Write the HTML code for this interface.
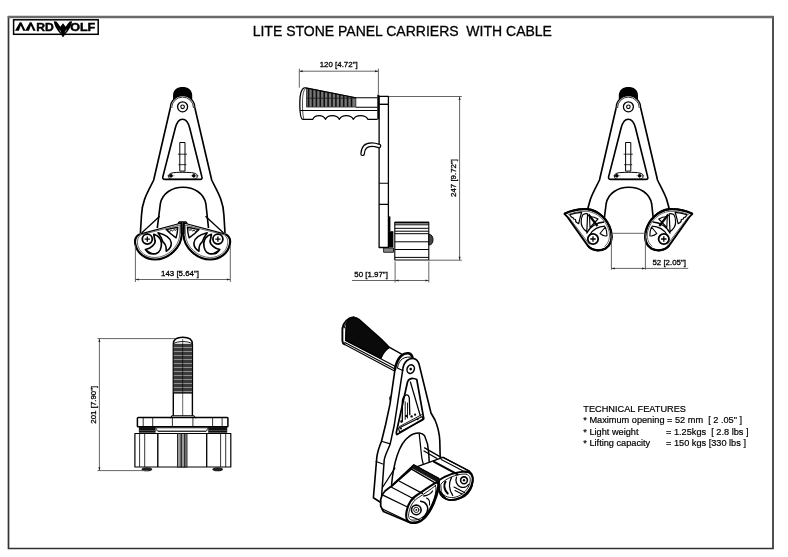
<!DOCTYPE html>
<html><head><meta charset="utf-8">
<style>
html,body{margin:0;padding:0;background:#fff;}
body{width:788px;height:557px;overflow:hidden;position:relative;}
svg{position:absolute;left:0;top:0;will-change:transform;}
text{font-family:"Liberation Sans",sans-serif;fill:#000;}
</style></head><body>
<svg width="788" height="557" viewBox="0 0 788 557">
<defs>
<marker id="ar" viewBox="0 0 10 6" refX="10" refY="3" markerWidth="5" markerHeight="3" orient="auto-start-reverse"><path d="M0,0 L10,3 L0,6 z" fill="#000"/></marker>
<!-- V1 body -->
<g id="body" fill="none" stroke="#000" stroke-width="1.65" stroke-linejoin="round">
  <path d="M-9.6,101 L-9.6,95.5 C-9.6,89.5 -5,87 0,87 C5,87 9.6,89.5 9.6,95.5 L9.6,101 Z" fill="#000" stroke="none"/>
  <path d="M-12.3,108 A12.3,12.3 0 0 1 12.3,108 Z" fill="#fff" stroke="none"/>
  <path d="M-12.3,108 A12.3,12.3 0 0 1 12.3,108" stroke-width="1.3"/>
  <path d="M-10.9,108 A10.9,10.9 0 0 1 10.9,108" stroke-width="0.8"/>
  <circle cx="0" cy="106.8" r="5" stroke-width="1.3"/>
  <circle cx="0" cy="106.8" r="1.8" stroke-width="1.1"/>
  <path d="M-12.3,108 L-28.9,180 C-33.6,190 -40.6,200 -41.1,215 L-42.2,233"/>
  <path d="M12.3,108 L29.1,180 C33.8,190 40.8,200 41.3,215 L42.4,233"/>
  <path d="M-19.8,176.9 L-7.3,128 C-4.3,116.3 4.1,116.3 7.1,128 L19.3,176.9 Q20,179.3 17.5,179.3 L-17.5,179.3 Q-20.3,179.3 -19.8,176.9 Z"/>
  <rect x="-2.8" y="142.5" width="5.2" height="28.6" stroke-width="1.0"/>
  <path d="M-4.8,154.2 H4.4 M-4.2,164.7 H3.8" stroke-width="0.8"/>
  <path d="M-15.5,175.8 H-8 M8,175.8 H16 M-11.6,173 V178.6 M11.2,173 V178.6" stroke-width="0.4"/>
  <path d="M-13.9,175.8 C-13.9,173 -10,172.3 0,172.3 C10,172.3 14.7,173 14.7,175.8 C14.7,178.6 13,179.3 11,179.3 L-11,179.3 C-13,179.3 -13.9,178.6 -13.9,175.8 Z" stroke-width="1.0"/>
  <circle cx="-11.6" cy="175.8" r="1.8" fill="#000" stroke="none"/>
  <circle cx="11.2" cy="175.8" r="1.8" fill="#000" stroke="none"/>
  <path d="M-25.3,228 L-22.3,204 C-20.6,193 -10,187.2 0.4,187.2 C11,187.2 21.5,193 23.3,204 L25.9,228"/>
</g>

<g id="padL" fill="none" stroke="#000" stroke-linejoin="round">
  <path d="M181.5,223 L139.8,234.1 C136,236 134.5,240 135.3,244 C137,253 145,259.5 155,259.5 C168,259.5 181.5,248 181.8,234 Z" fill="#fff" stroke-width="1.1"/>
  <path d="M139.8,234.1 C136,236 134.5,240 135.3,244 C137,253 145,259.5 155,259.5 C168,259.5 181.5,248 181.8,234 L181.5,223" stroke-width="2.1"/>
  <path d="M180,225 L141,234.8 C138,237 137,240 137.5,244 C139,252 146,257.5 155,257.5 C167,257.5 179.5,247 179.8,234 Z" stroke-width="0.6"/>
  <circle cx="147.3" cy="239.1" r="5" fill="#fff" stroke-width="1.8"/>
  <path d="M144.7,239.1 H149.9 M147.3,236.5 V241.7" stroke-width="1.3"/>
  <!-- C slot -->
  <path d="M153.8,234.3 C158.2,235.8 161.2,239 161.4,243 C161.6,248 159.6,252.6 156,253.6 C151.5,254.7 147.5,252.7 145.5,249.5 C148,249 150.5,248 152.3,246.2 C154.5,244.5 155.6,242.5 154.9,240.3 C154.5,238 153.9,236 153.8,234.3 Z" stroke-width="1.7"/>
  <path d="M145.8,249.8 L149.3,253.9 L151.6,253.2 Z" fill="#000" stroke-width="0.8"/>
  <!-- crescent -->
  <path d="M158,232.8 C166,234.8 171,238.5 171.3,243 C171.4,246.5 169.2,249.5 166.2,251.2 C166.6,247.2 165.5,244 163,241.9 C161.6,238 160,235.5 158,232.8 Z" stroke-width="1.6"/>
  <!-- notched triangle -->
  <path d="M166.2,229.6 L177.8,227.2 C177.6,231 177,235 176.1,237.9 C172.5,235.5 169,232.6 166.2,229.6 Z" stroke-width="1.4"/>
  <path d="M168.5,230.3 L169.8,231.6 L171.2,230 L172.5,231.2 L174,229.4 L175.5,230.5 L176.8,228.6" stroke-width="0.9"/>
  </g>

<g id="jawL" fill="none" stroke="#000" stroke-linejoin="round">
  <path d="M564.4,213.8 C572,210 580,208.8 587.6,209.2 C598,210.5 608,219 611,231 C612.5,238 611,245 605.5,248.5 C600,251.5 592,251 587.6,245.4 L566.9,216.3 Z" fill="#fff" stroke-width="1.9"/>
  <path d="M568.5,216.8 L589.5,244.5" stroke-width="0.6"/>
  <path d="M564.4,213.8 C572,210 580,208.8 587.6,209.2 C598,210.5 608,219 611,231 C612.5,238 611,245 605.5,248.5 C600,251.5 592,251 587.6,245.4" stroke-width="2.2"/>
  <path d="M568,214.5 C575,212 581,211 587.6,211.4 C597,212.5 606,220 609,231 C610.3,237 609,243 604.5,246.5" stroke-width="0.6"/>
  <circle cx="593" cy="239" r="5.2" fill="#fff" stroke-width="1.8"/>
  <path d="M590.3,239 H595.7 M593,236.3 V241.7" stroke-width="1.3"/>
  <!-- notched triangle near tip -->
  <path d="M569.8,214.8 C574,213.3 578,212.5 581.7,212.3 C580.5,216 579.5,220 578.7,223.7 C577.5,223 576.5,222.3 575.8,221.7 L575.5,219.5 L573.5,219 L573,217.5 L571.5,217.2 Z" stroke-width="1.2"/>
  <!-- crescent -->
  <path d="M583,214.5 C585,213.6 586.5,213.5 587.6,213.8 L586.8,231.8 C583,229 581,225 581.2,221.5 C581.3,218.5 582,216 583,214.5 Z" stroke-width="1.2"/>
  <!-- dark V -->
  <path d="M588.5,214.5 L597.5,226" stroke-width="2.2"/>
  <path d="M589.5,216.5 C593,216.8 596,217.8 598,219 L590,227.5 Z" stroke-width="1.1"/>
  <!-- band arcs -->
  <path d="M586.5,233.5 C589.5,227 596.5,222.5 604,222" stroke-width="1.3"/>
  <path d="M589.5,235.2 C592.5,230 598,226.5 605,226.2" stroke-width="1.2"/>
  <path d="M600,233.5 C602.5,235.5 605,236.5 607,235.8 C607,232 606.2,229 605.3,227 Z" stroke-width="1.1"/>
  </g>
</defs>
<!-- border -->
<path d="M8.5,16 V549.2 M773,16 V549.2 M7.8,548.5 H773.8" fill="none" stroke="#333" stroke-width="1.7"/>
<path d="M7.8,17 H773.6" fill="none" stroke="#6a6a6a" stroke-width="2.3"/>
<!-- logo -->
<g id="logo">
<rect x="13.6" y="19.8" width="84.6" height="14.5" fill="none" stroke="#000" stroke-width="1.5"/>
<path d="M19.8,22.2 L21.4,22.2 L25.6,30.8 L23.2,30.8 L20.8,25.6 L18.8,30.8 L15,30.8 Z" fill="#000"/>
<path d="M29.9,22.2 L31.5,22.2 L35.7,30.8 L33.3,30.8 L30.9,25.6 L28.9,30.8 L25.1,30.8 Z" fill="#000"/>
<text x="0" y="0" font-size="11" font-weight="bold" stroke="#000" stroke-width="0.45" transform="translate(36.2,30.8) scale(1.1,1)" style="font-family:'Liberation Sans',sans-serif">RD</text>
<text x="0" y="0" font-size="11" font-weight="bold" stroke="#000" stroke-width="0.45" transform="translate(70.2,30.8) scale(1.14,1)" style="font-family:'Liberation Sans',sans-serif">OLF</text>
<path d="M53.8,21.3 L56.3,21.6 C57.8,23.2 59.2,25 60.3,26.8 L63,23.2 L65.7,26.8 C66.8,25 68.2,23.2 69.7,21.6 L72.1,21.3 C71.7,24.5 70.3,28 68,31 C66.8,32.6 65.7,33.6 64.8,34.3 L63.8,36.8 L62.2,36.8 L61.2,34.3 C60.3,33.6 59.2,32.6 58,31 C55.7,28 54.2,24.5 53.8,21.3 Z" fill="#000"/>
<path d="M59.2,29.5 C60,30.5 60.6,31.4 60.9,32.4 M66.8,29.5 C66,30.5 65.4,31.4 65.1,32.4" stroke="#fff" stroke-width="0.5" fill="none"/>
</g>
<!-- title -->
<text x="252.7" y="35.9" font-size="14" stroke="#000" stroke-width="0.3" style="white-space:pre">LITE STONE PANEL CARRIERS  WITH CABLE</text>

<!-- tech features -->
<g font-size="9.2" stroke="#000" stroke-width="0.2">
<text x="583.3" y="412.2">TECHNICAL FEATURES</text>
<text x="583.3" y="423.4" style="white-space:pre">* Maximum opening = 52 mm  [ 2 .05" ]</text>
<text x="583.3" y="434.6">* Light weight</text>
<text x="666" y="434.6" style="white-space:pre">= 1.25kgs  [ 2.8 lbs ]</text>
<text x="583.3" y="445.8">* Lifting capacity</text>
<text x="666" y="445.8" style="white-space:pre">= 150 kgs [330 lbs ]</text>
</g>



<!-- V1 -->
<use href="#body" x="182.6" y="0"/>
<g fill="none" stroke="#000" stroke-width="1.3" stroke-linejoin="round">
  <path d="M159.7,216.2 L141.6,233 M205.5,216.2 L223.6,233"/>
  </g>
<use href="#padL"/>
<use href="#padL" transform="translate(365.2,0) scale(-1,1)"/>
<path d="M177.8,223.6 L179.3,222 H185.9 L187.4,223.6 M181.3,222 V234 M183.9,222 V234" fill="none" stroke="#000" stroke-width="1.3"/>
<!-- V3 -->
<use href="#body" x="628.4" y="0"/>
<use href="#jawL"/>
<use href="#jawL" transform="translate(1256.8,0) scale(-1,1)"/>

<!-- V2 side view -->
<g fill="none" stroke="#000" stroke-width="1.1" stroke-linejoin="round">
  <!-- grip dark -->
  <path d="M306.5,88 L355.9,97.8 L355.9,107.1 L306.5,107.1 Z" fill="#777" stroke="#000" stroke-width="0.6"/>
  <path d="M308.6,88.5 V106.8 M312.5,89.3 V106.8 M316.4,90.1 V106.8 M320.3,90.9 V106.8 M324.2,91.7 V106.8 M328.1,92.4 V106.8 M332.0,93.2 V106.8 M335.9,94.0 V106.8 M339.8,94.8 V106.8 M343.7,95.6 V106.8 M347.6,96.3 V106.8 M351.5,97.1 V106.8" stroke="#111" stroke-width="1.6"/>
  <path d="M306.5,98.2 H355.9" stroke="#222" stroke-width="0.9"/>
  <path d="M304.5,87.6 L355.9,97.8 H377.5 M355.9,107.3 H377.5 M300,110.5 H377.5" stroke-width="1.1"/>
  <path d="M304.5,87.6 C301,89 299.8,96 299.8,103 C299.8,112 300.5,119.3 303,119.3 L312.8,119.3 C315,114.5 323,114.5 325.5,119.3 C328,114.5 336.5,114.5 339.4,119.3 C342,114.5 350.5,114.5 353.4,119.3 C356,114.5 365,114.5 368,119.3 L377.5,119.3" stroke-width="1.3"/>
  <path d="M305.5,88.3 C303,91 302.5,97 302.5,103 C302.5,111 303,117 304,119.3" stroke-width="0.7"/>
  <!-- flange -->
  <rect x="377.3" y="94.6" width="2" height="24.7" fill="#000" stroke="none"/>
  <!-- plate -->
  <rect x="379.1" y="96.3" width="9.3" height="151.2" stroke-width="1.3"/>
  <path d="M379.1,104.3 H388.4" stroke-width="1.4"/>
  <path d="M379.1,183.2 H388.4 M379.1,204.4 H388.4" stroke-width="1.1"/>
  <!-- hook -->
  <path d="M362.6,153.8 C363,147 367,144.6 371.6,144.6 C374.5,144.6 377,145.3 379,146" stroke-width="4.6" stroke-linecap="round"/>
  <path d="M362.6,153.8 C363,147 367,144.6 371.6,144.6 C374.5,144.6 377,145.3 379,146" stroke="#fff" stroke-width="2.2" stroke-linecap="round"/>
  <!-- strips -->
  <rect x="388.6" y="216.4" width="1.8" height="15" fill="#000" stroke="none"/>
  <rect x="388.4" y="231.2" width="5" height="16.3" fill="#000" stroke="none"/>
  <path d="M383.6,248 H393.5 V252.3 H383.6 Z" fill="#888" stroke="#000" stroke-width="0.8"/>
  <!-- roller -->
  <rect x="394.8" y="222.4" width="34" height="37.6" stroke-width="1.1"/>
  <path d="M394.8,222.6 H428.8" stroke-width="1.6"/>
  <path d="M394.8,224.8 H428.8 M394.8,228.3 H428.8 M394.8,231.2 H428.8 M394.8,233.7 H428.8 M394.8,241.8 H428.8 M394.8,249.5 H428.8 M394.8,257.4 H428.8" stroke-width="1"/>
  <path d="M428.8,234.2 C432,234.5 433,237 433,239.6 C433,242.5 432,245 428.8,245.1 Z" fill="#444" stroke-width="0.9"/>
</g>

<!-- V4 top view -->
<g fill="none" stroke="#000" stroke-width="1.1" stroke-linejoin="round">
  <path d="M173.3,415.8 V344 C173.3,339.5 176.5,337.3 182.8,337.3 C189,337.3 192.4,339.5 192.4,344 V415.8" stroke-width="1.4"/>
  <path d="M173.6,343.8 C176.5,340.8 189,340.8 192.1,343.8" stroke-width="0.9"/>
  <rect x="173.6" y="343.8" width="18.5" height="49.3" fill="#3a3a3a" stroke="none"/>
  <path d="M173.8,347.5 H191.9 M173.8,351.5 H191.9 M173.8,355.5 H191.9 M173.8,359.5 H191.9 M173.8,363.5 H191.9 M173.8,367.5 H191.9 M173.8,371.5 H191.9 M173.8,375.5 H191.9 M173.8,379.5 H191.9 M173.8,383.5 H191.9 M173.8,387.5 H191.9 M173.8,391.5 H191.9 " stroke="#999" stroke-width="0.9"/>
  <path d="M182.7,339 V415.8" stroke-width="0.6"/>
  <path d="M173.3,393.1 H192.4" stroke-width="0.9"/>
  <path d="M170.5,418.3 L172,415.8 H193.8 L195.6,418.3" stroke-width="1.1"/>
  <!-- top plate -->
  <rect x="137.4" y="417.4" width="90.5" height="9.4" rx="0.8" stroke-width="1.5"/>
  <path d="M143.2,417.4 V426.9 M152.7,417.4 V426.9 M172.4,417.4 V426.9 M192.9,417.4 V426.9 M212.6,417.4 V426.9 M222.1,417.4 V426.9" stroke-width="0.8"/>
  <!-- dark band -->
  <rect x="138.9" y="426.9" width="16.7" height="5.8" fill="#111" stroke="none"/>
  <rect x="208.2" y="426.9" width="19" height="5.8" fill="#111" stroke="none"/>
  <path d="M155.6,427.8 L158,431.5 H206 L208.2,427.8 Z" stroke-width="0.8"/>
  <path d="M138.9,430.5 H227.2" stroke="#666" stroke-width="0.6"/>
  <!-- roller -->
  <rect x="134.9" y="433.5" width="95.9" height="33.5" stroke-width="1.2"/>
  <path d="M139.6,433.5 V467 M144.7,433.5 V467 M157.8,433.5 V467 M206.7,433.5 V467 M220.6,433.5 V467 M225.7,433.5 V467" stroke-width="0.8"/>
  <rect x="177.5" y="433.5" width="9.5" height="33.5" fill="#999" stroke="#000" stroke-width="0.8"/>
  <path d="M181.2,433.5 V467 M184.8,433.5 V467" stroke-width="1"/>
  <path d="M157.8,433.5 V467 M206.7,433.5 V467" stroke-width="1.1"/>
  <ellipse cx="146.9" cy="469.3" rx="5.2" ry="2" fill="#222" stroke="none"/>
  <ellipse cx="217.7" cy="469.3" rx="5.2" ry="2" fill="#222" stroke="none"/>
</g>

<!-- V5 iso -->
<g fill="none" stroke="#000" stroke-width="1.50" stroke-linejoin="round" stroke-linecap="round">
  <!-- handle grip -->
  <path d="M345.9,327.5 C346.5,321.5 349.5,317.6 353.8,317.3 C355.8,317.3 357.4,318 359,319.3 L381.5,339.2 C384,341.7 387,344.7 389.5,347.4 C386,349.5 382.5,354 380.9,358.5 L345.6,340.5 Z" fill="#0a0a0a" stroke-width="1.25"/>
  <path d="M350.8,318.6 C347.2,320.5 344.8,324 344.2,328" stroke="#000" stroke-width="1.0"/>
  <path d="M353.8,317.3 C348,317.8 343.5,322 342.4,328.5 L342.4,340.8 C342.6,342.5 343.2,343.6 344.3,344.2" stroke-width="1.88"/>
  <path d="M389.5,347.4 L402.6,354.6" stroke-width="1.38"/>
  <path d="M345.4,340.2 L395.5,366.5 M344.8,342.4 L395,369 M344.3,344.3 L394.5,371" stroke-width="1.12"/>
  <!-- collar -->
  <path d="M395,369.4 C396,363 398,359 401,356 C403.5,353.8 406.5,353 408.5,353.3 C410.5,353.6 411.8,355 412.5,357.4" stroke-width="2.50"/>
  <path d="M397.5,367.5 C398.5,363 400,360.5 402.6,358.7 C405.5,357 409,356.7 412.3,357.4" stroke-width="1.00"/>
  <path d="M397.5,368.1 L402.6,370.6" stroke-width="1.12"/>
  <!-- frame head / front face -->
  <path d="M402.6,370.6 C403,366 404.5,362.5 407,360.5 C409.5,358.5 412,358.2 414,358.6 C416.5,359.2 418,361 419,364 L431,413 L435,420 C438,427 439.5,434 439.8,441 L440.2,458" stroke-width="1.62"/>
  <path d="M402.6,370.6 L394.3,425 L390.2,443.9 C388,450 385,455 384.2,460 L381.5,497.7" stroke-width="1.50"/>
  <!-- side face -->
  <path d="M395,369.4 L390,404.2 L385.5,425 L381.5,441.2 C379.5,446 377.5,452 376.8,457.3 L373.4,497.7 L380,502" stroke-width="1.62"/>
  <path d="M381.5,441.2 L390.2,443.9 M376.1,461.4 L382.8,464" stroke-width="1.12"/>
  <path d="M390.6,396 C389.3,397 389.3,399.5 390.2,400.6" stroke-width="1.00"/>
  <!-- head hole -->
  <ellipse cx="410.7" cy="369.1" rx="3.6" ry="4.4" transform="rotate(20 410.7 369.1)" stroke-width="1.50"/>
  <circle cx="410.7" cy="369.1" r="1.3" fill="#000" stroke="none"/>
  <!-- cutout -->
  <path d="M407.5,382 C408.5,379.5 411,378.4 413.3,378.5 C415,378.6 416.3,379.2 416.8,379.7 L423.8,418.8 L397,434.5 C396.3,434 396.2,433.2 396.4,432.2 Z" stroke-width="1.75"/>
  <path d="M410.4,382 L420.3,415.8" stroke-width="1.25"/>
  <path d="M398.5,428.3 L422.2,416.5 L423,420 L399.6,432 Z" stroke-width="1.12"/>
  <path d="M399.5,426.5 L422,414.5" stroke-width="0.88"/>
  <circle cx="401" cy="428.5" r="1" fill="#000" stroke="none"/>
  <circle cx="417.5" cy="419.3" r="1" fill="#000" stroke="none"/>
  <path d="M402.3,421 L402.3,401.8 C402.5,398 404,395.5 406.5,394.8 C408,394.6 409,396 409.3,398.3 L409.8,414.7" stroke-width="1.3"/>
  <path d="M405.2,401.8 V419.5 M407.5,403 V418" stroke-width="0.9"/>
  <circle cx="401.5" cy="421.5" r="1.3" fill="#000" stroke="none"/>
  <circle cx="406.3" cy="416" r="1.2" fill="#000" stroke="none"/>
  <circle cx="411.6" cy="416.4" r="1.2" fill="#000" stroke="none"/>
  <circle cx="415.1" cy="414.7" r="1.1" fill="#000" stroke="none"/>
  <!-- arch -->
  <path d="M391.6,484.3 C392.5,475 394,465 397,456 C400,447 404,440 408.4,437.1 C411.5,434.5 415,433 419.2,433.1 C421.5,433.3 423.5,434.3 424.6,435.8 C427,441 428.3,446 428.6,451.9 L429.3,462.7" stroke-width="1.50"/>
  <path d="M419.2,433.8 L421.9,458.7 L423.2,464" stroke-width="1.25"/>
  <path d="M424.6,447.9 L443.4,458.7 M424,451 L437,458.5" stroke-width="1.38"/>
  <path d="M394.9,468.1 L382.8,487" stroke-width="1.25"/>
</g>

<!-- V5 pads -->
<g fill="none" stroke="#000" stroke-width="1.50" stroke-linejoin="round" stroke-linecap="round">
  <!-- back pad -->
  <path d="M416.5,466.8 L443,457.3 L469.5,471.2 C472.5,474 473.5,477 473,481 C472.5,487 469.5,493 464.5,496.5 C459,500 451,501 446.4,499.1 L438.9,490.3 L437,480 Z" fill="#fff" stroke-width="1.4"/>
  <path d="M443,457.3 L469.5,471.2 M441.2,459.4 L466.5,472.8" stroke-width="1.1"/>
  <path d="M433.8,461.6 L457.5,474.4" stroke-width="2.2"/>
  <path d="M438.9,480.2 C445,476 455,472 465.3,471.4 C471,471.5 473.5,476 472.5,481.5 C471.5,488 467,494 461,497.5 C456,500 450,500.5 446.4,499.1 C441.5,497 438.5,493 438.9,486 Z" stroke-width="2.00"/>
  <path d="M441,484 C446,478 456,474.5 464,474 C469.5,474 471,478 470,482.5 C468.5,489 463,495 456,497 C450,498.5 444,497 441.5,492 Z" stroke-width="0.88"/>
  <circle cx="464" cy="480.3" r="3.4" stroke-width="1.6"/>
  <circle cx="464" cy="480.3" r="1.2" fill="#000" stroke="none"/>
  <path d="M445.5,481.5 C443.5,485 444,490 447.7,493.5" stroke-width="2"/>
  <path d="M451.5,477.5 C448.5,483 449,490 452.7,495.3" stroke-width="1.4"/>
  <path d="M456.5,477.2 C455,481 456.5,485 460.3,486.8 C463.5,488 467,487 468.5,484.5" stroke-width="1.3"/>
  <path d="M454,487 L464.5,492.5 M455,490.5 L462,494" stroke-width="1.1"/>
  <!-- front pad -->
  <path d="M413.7,465.1 L438.6,478.6 C439,482 438.5,486 437.2,490 C435.5,498 432,506 429.1,511.5 C426,517 422,521 418.4,522.3 C414,523.5 410.5,523 409,522.3 L383.4,511.5 L380.7,506.1 L380.7,499.4 C381.5,496 383,493 385,491 L391.5,486 Z" fill="#fff" stroke-width="1.75"/>
  <path d="M413.7,465.1 L438.6,478.6 M411.6,469.1 L435.9,483.3 M413.7,465.1 L411.6,469.1" stroke-width="1.38"/>
  <path d="M414.2,467.6 L437.5,480.6" stroke="#151515" stroke-width="3.4"/>
  <path d="M411.6,469.1 L391.5,486.6" stroke-width="1.38"/>
  <path d="M399.5,481.2 L422.4,493.4 M391.5,487.3 L414,499 M383.4,495.4 L406.9,506.8 M382,508.8 L407.6,521" stroke-width="1.25"/>
  <path d="M437.2,481.9 C439,484 438.5,490 436.5,496 C434,504 430,512 425.5,517 C421.5,521 416,523 411,522.5 C407,522 405.5,518 406.5,512 C408,504 412,498 417,495 C423,491 430,486 437.2,481.9 Z" stroke-width="2.12"/>
  <path d="M435.5,485.5 C436.5,488 436,493 434,499 C431.5,506 428,512 424,516 C420,519.5 415,520.5 411.5,520 C409,519.5 408,516.5 409,512 C410.5,505 414,500 418.5,497.5 C424,494 430,490 435.5,485.5 Z" stroke-width="0.88"/>
  <circle cx="416.3" cy="509.9" r="4.8" stroke-width="1.6"/>
  <circle cx="416.3" cy="509.9" r="2.6" stroke-width="0.9"/>
  <circle cx="416.3" cy="509.9" r="0.9" fill="#000" stroke="none"/>
  <path d="M420.6,501.3 C426.5,502 429,507 427,512 C426,515 424,517 422.5,517.8" stroke-width="1.5"/>
  <path d="M423.8,496 C427.5,495.5 431,493.5 432.6,491" stroke-width="1.3"/>
  <path d="M426.5,498 C429,499 430,502 429.5,505" stroke-width="1.1"/>
  <path d="M410.5,516.5 L419.5,520" stroke-width="1.2"/>
  </g>
<!-- dimension texts -->
<g font-size="7.9" stroke="#000" stroke-width="0.3">
<text x="338.7" y="67.4" text-anchor="middle">120 [4.72"]</text>
<text x="180" y="276.1" text-anchor="middle">143 [5.64"]</text>
<text x="371.1" y="276.9" text-anchor="middle">50 [1.97"]</text>
<text x="669.2" y="264.5" text-anchor="middle">52 [2.05"]</text>
<text transform="translate(456.2,178) rotate(-90)" text-anchor="middle">247 [9.72"]</text>
<text transform="translate(96.1,404.7) rotate(-90)" text-anchor="middle">201 [7.90"]</text>
</g>
<g id="dims" fill="none" stroke="#555" stroke-width="0.9">
  <!-- 120 -->
  <path d="M299.3,71.2 H378.4 M299.3,68.7 V87.7 M378.4,68.7 V94"/>
  <!-- 143 -->
  <path d="M135.4,279.5 H230.3 M135.4,245 V282 M230.3,245 V282"/>
  <!-- 247 -->
  <path d="M459.6,96.5 V260.2 M388.7,96.5 H461.8 M428.8,260.2 H461.8"/>
  <!-- 50 -->
  <path d="M352,280.5 H428.8 M395.1,261.4 V282.5 M428.8,261.4 V282.5"/>
  <!-- 52 -->
  <path d="M611.4,233.3 H646.3 M611.4,268.4 H688.2 M611.4,233.3 V269.8 M645.4,233.3 V269.8"/>
  <!-- 201 -->
  <path d="M99.4,338.6 V470.6 M97.5,338.6 H176 M97.5,470.6 H148"/>
</g>
<g id="arrows" fill="#222" stroke="none">
  <path d="M299.5,71.2 l3.2,-1 v2 z M378.2,71.2 l-3.2,-1 v2 z"/>
  <path d="M135.6,279.5 l3.2,-1 v2 z M230.1,279.5 l-3.2,-1 v2 z"/>
  <path d="M459.6,96.8 l-1,3.2 h2 z M459.6,259.9 l-1,-3.2 h2 z"/>
  <path d="M395.3,280.5 l3.2,-1 v2 z M428.6,280.5 l-3.2,-1 v2 z"/>
  <path d="M611.6,268.4 l3.2,-1 v2 z M645.2,268.4 l-3.2,-1 v2 z"/>
  <path d="M99.4,338.8 l-1,3.2 h2 z M99.4,470.4 l-1,-3.2 h2 z"/>
</g>
</svg>
</body></html>
